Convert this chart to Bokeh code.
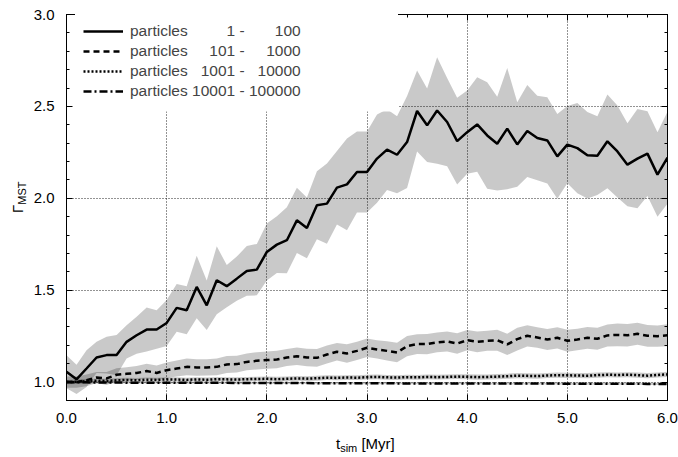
import numpy as np
from bokeh.plotting import figure
from bokeh.layouts import row, column
from bokeh.models import (Range1d, LinearAxis, SingleIntervalTicker, FixedTicker,
                          PrintfTickFormatter, Legend, LegendItem, Grid, Div, BoxAnnotation)
from bokeh.embed import file_html
from bokeh.resources import INLINE

# ---------------- data ----------------
t_myr = [round(0.1 * i, 1) for i in range(61)]

mean_1_100 = [1.056, 1.015, 1.074, 1.134, 1.147, 1.147, 1.219, 1.255, 1.286, 1.286,
              1.322, 1.404, 1.391, 1.518, 1.418, 1.554, 1.522, 1.563, 1.605, 1.612,
              1.708, 1.748, 1.772, 1.880, 1.839, 1.962, 1.971, 2.058, 2.076, 2.143,
              2.143, 2.216, 2.265, 2.237, 2.306, 2.475, 2.397, 2.478, 2.415, 2.311,
              2.360, 2.402, 2.342, 2.297, 2.379, 2.293, 2.366, 2.328, 2.315, 2.228,
              2.292, 2.273, 2.234, 2.232, 2.310, 2.255, 2.183, 2.216, 2.243, 2.129,
              2.221]
err_1_100 = [0.090, 0.080, 0.100, 0.085, 0.100, 0.110, 0.090, 0.100, 0.120, 0.105,
             0.125, 0.130, 0.130, 0.170, 0.135, 0.185, 0.115, 0.120, 0.135, 0.140,
             0.155, 0.155, 0.180, 0.178, 0.165, 0.185, 0.218, 0.200, 0.250, 0.220,
             0.220, 0.240, 0.220, 0.210, 0.250, 0.220, 0.200, 0.290, 0.240, 0.236,
             0.227, 0.257, 0.290, 0.255, 0.330, 0.230, 0.250, 0.230, 0.235, 0.230,
             0.210, 0.245, 0.235, 0.214, 0.255, 0.250, 0.226, 0.270, 0.230, 0.230,
             0.250]

mean_101_1000 = [1.000, 1.000, 1.010, 1.025, 1.020, 1.040, 1.045, 1.050, 1.060, 1.050,
                 1.065, 1.074, 1.083, 1.080, 1.080, 1.083, 1.096, 1.098, 1.110, 1.116,
                 1.120, 1.123, 1.134, 1.141, 1.134, 1.132, 1.150, 1.165, 1.156, 1.170,
                 1.187, 1.178, 1.170, 1.161, 1.196, 1.207, 1.207, 1.216, 1.221, 1.210,
                 1.228, 1.219, 1.225, 1.228, 1.205, 1.234, 1.252, 1.243, 1.232, 1.241,
                 1.225, 1.232, 1.241, 1.236, 1.254, 1.257, 1.255, 1.263, 1.252, 1.250,
                 1.255]
err_101_1000 = [0.030, 0.030, 0.032, 0.030, 0.035, 0.035, 0.036, 0.038, 0.040, 0.040,
                0.042, 0.044, 0.045, 0.045, 0.044, 0.045, 0.046, 0.045, 0.046, 0.047,
                0.047, 0.048, 0.046, 0.048, 0.047, 0.048, 0.049, 0.048, 0.050, 0.049,
                0.050, 0.050, 0.052, 0.053, 0.055, 0.054, 0.055, 0.054, 0.055, 0.056,
                0.055, 0.056, 0.055, 0.057, 0.058, 0.062, 0.058, 0.056, 0.057, 0.058,
                0.060, 0.058, 0.059, 0.060, 0.060, 0.062, 0.061, 0.060, 0.059, 0.058,
                0.060]

mean_1001_10000 = [1.000, 1.002, 1.005, 1.008, 1.006, 1.010, 1.012, 1.010, 1.013, 1.012,
                   1.015, 1.014, 1.012, 1.015, 1.013, 1.016, 1.015, 1.014, 1.016, 1.017,
                   1.018, 1.016, 1.018, 1.020, 1.019, 1.021, 1.024, 1.023, 1.025, 1.024,
                   1.027, 1.028, 1.026, 1.025, 1.027, 1.026, 1.028, 1.027, 1.028, 1.030,
                   1.029, 1.027, 1.028, 1.030, 1.032, 1.035, 1.034, 1.033, 1.036, 1.038,
                   1.037, 1.036, 1.035, 1.038, 1.040, 1.039, 1.040, 1.038, 1.035, 1.039,
                   1.042]
err_1001_10000 = [0.012] * 20 + [0.013] * 20 + [0.014] * 21

mean_10001_100000 = [1.000, 0.999, 0.999, 0.998, 0.998, 0.998, 0.997, 0.997, 0.997, 0.997,
                     0.997, 0.996, 0.996, 0.996, 0.996, 0.996, 0.996, 0.995, 0.995, 0.995,
                     0.995, 0.995, 0.995, 0.995, 0.995, 0.994, 0.994, 0.994, 0.994, 0.994,
                     0.994, 0.994, 0.994, 0.993, 0.993, 0.993, 0.993, 0.993, 0.993, 0.993,
                     0.993, 0.993, 0.992, 0.992, 0.992, 0.992, 0.992, 0.992, 0.992, 0.992,
                     0.991, 0.991, 0.991, 0.991, 0.991, 0.991, 0.991, 0.991, 0.990, 0.990,
                     0.990]
err_10001_100000 = [0.005] * 61

legend_labels = ["particles \u2007\u2007\u2007\u20071 - \u2007\u2007\u2007100",
                 "particles \u2007\u2007101 - \u2007\u20071000",
                 "particles \u20071001 - \u200710000",
                 "particles 10001 - 100000"]

x_major_ticks = [0.0, 1.0, 2.0, 3.0, 4.0, 5.0, 6.0]
y_major_ticks = [1.0, 1.5, 2.0, 2.5, 3.0]
x_minor_ticks = [round(a + 0.2 * k, 1) for a in x_major_ticks[:-1] for k in range(1, 5)]
y_minor_ticks = [0.9] + [round(a + 0.1 * k, 1) for a in y_major_ticks[:-1] for k in range(1, 5)]

# ---------------- figure ----------------
FONT = "Liberation Sans"
TICK_FS = "15px"
X0, X1, Y0, Y1 = 0.0, 6.0, 0.9, 3.0
FIG_W, FIG_H = 648, 432
MB_L, MB_R, MB_T, MB_B = 36, 11, 14, 32
frame_w = FIG_W - MB_L - MB_R
frame_h = FIG_H - MB_T - MB_B

p = figure(width=FIG_W, height=FIG_H, x_range=Range1d(X0, X1), y_range=Range1d(Y0, Y1),
           output_backend="svg", toolbar_location=None,
           min_border_left=MB_L, min_border_right=MB_R, min_border_top=MB_T,
           min_border_bottom=MB_B, x_axis_type=None, y_axis_type=None, margin=0)
p.background_fill_color = "white"
p.border_fill_color = "white"
p.outline_line_color = "black"
p.outline_line_width = 1

xt = SingleIntervalTicker(interval=1.0, num_minor_ticks=5)
yt = SingleIntervalTicker(interval=0.5, num_minor_ticks=5)
fmt = PrintfTickFormatter(format="%.1f")


def style_ticks(ax, major_in, minor_in):
    ax.axis_line_color = "black"
    ax.axis_line_width = 1
    ax.major_tick_in = major_in
    ax.major_tick_out = 0
    ax.minor_tick_in = minor_in
    ax.minor_tick_out = 0
    ax.major_tick_line_color = "black"
    ax.minor_tick_line_color = "black"
    ax.level = "overlay"


bottom = LinearAxis(ticker=xt, formatter=fmt)
style_ticks(bottom, 6, 3)
bottom.major_label_text_font = FONT
bottom.major_label_text_font_size = TICK_FS
bottom.major_label_text_color = "black"
bottom.major_label_standoff = 12
p.add_layout(bottom, "below")

left = LinearAxis(ticker=yt, formatter=fmt)
style_ticks(left, 6, 3)
left.major_label_text_font = FONT
left.major_label_text_font_size = TICK_FS
left.major_label_text_color = "black"
left.major_label_standoff = 12
p.add_layout(left, "left")

# mirrored ticks (no labels) on top and right
for side, majors, minors in (("above", x_major_ticks, x_minor_ticks),
                             ("right", y_major_ticks, y_minor_ticks)):
    a1 = LinearAxis(ticker=FixedTicker(ticks=[], minor_ticks=minors))
    style_ticks(a1, 0, 3)
    a1.major_label_standoff = 0
    a1.axis_label_standoff = 0
    p.add_layout(a1, side)
    a2 = LinearAxis(ticker=FixedTicker(ticks=[], minor_ticks=majors))
    style_ticks(a2, 0, 6)
    a2.major_label_standoff = 0
    a2.axis_label_standoff = 0
    p.add_layout(a2, side)

xg = Grid(dimension=0, ticker=xt)
yg = Grid(dimension=1, ticker=yt)
for g in (xg, yg):
    g.grid_line_color = "black"
    g.grid_line_alpha = 0.85
    g.grid_line_width = 1
    g.grid_line_dash = "1 2"
    g.level = "annotation"
    p.add_layout(g)

# ---------------- bands + lines ----------------
series = [
    (mean_1_100, err_1_100, "solid"),
    (mean_101_1000, err_101_1000, "6 4"),
    (mean_1001_10000, err_1001_10000, "2 2"),
    (mean_10001_100000, err_10001_100000, "8 3 2 3"),
]
for m, e, dash in series:
    m = np.array(m); e = np.array(e)
    p.varea(x=t_myr, y1=m - e, y2=m + e, fill_color="black", fill_alpha=0.21)
line_renderers = []
for m, e, dash in series:
    r = p.line(t_myr, m, line_color="black", line_width=2.5, line_dash=dash)
    line_renderers.append(r)

# opaque key area (hides the grid behind the legend, as in the original)
KEY_W_PX, KEY_H_PX = 330, 97
key_box = BoxAnnotation(left=X0, right=X0 + KEY_W_PX * (X1 - X0) / frame_w,
                        top=Y1, bottom=Y1 - KEY_H_PX * (Y1 - Y0) / frame_h,
                        fill_color="white", fill_alpha=1.0, line_color=None,
                        level="annotation")
p.add_layout(key_box)

LEG_PAD, LEG_ROW_H, LEG_SPACING = 8, 18, 2
leg_height = 2 * LEG_PAD + 4 * LEG_ROW_H + 3 * LEG_SPACING
legend = Legend(items=[LegendItem(label=lab, renderers=[r])
                       for lab, r in zip(legend_labels, line_renderers)])
legend.location = (9, frame_h - leg_height)
legend.margin = 0
legend.padding = LEG_PAD
legend.spacing = LEG_SPACING
legend.glyph_width = 40
legend.glyph_height = LEG_ROW_H
legend.label_height = LEG_ROW_H
legend.label_width = 260
legend.label_standoff = 7
legend.label_text_font = FONT
legend.label_text_font_size = "15.5px"
legend.border_line_color = "white"
legend.border_line_alpha = 0.0
legend.background_fill_color = "white"
legend.background_fill_alpha = 1.0
p.add_layout(legend)

# ---------------- axis titles (HTML text) ----------------
ylab = Div(width=30, height=457, margin=0, text=(
    '<div style="position:absolute; left:9px; top:213px; transform:rotate(-90deg);'
    ' transform-origin:left top; white-space:nowrap; font-family:\'Liberation Sans\';'
    ' font-size:15px; line-height:17px; color:black;">'
    '\u0393<sub style="font-size:11px; vertical-align:-3px;">MST</sub></div>'))
xlab = Div(width=648, height=25, margin=0, text=(
    '<div style="position:absolute; left:306px; top:3px; white-space:nowrap;'
    ' font-family:\'Liberation Sans\'; font-size:15px; line-height:17px; color:black;">'
    't<sub style="font-size:11px; vertical-align:-3px;">sim</sub> [Myr]</div>'))

layout = row(ylab, column(p, xlab, spacing=0, margin=0), spacing=0, margin=0)

open("out.html", "w").write(file_html(layout, INLINE))
